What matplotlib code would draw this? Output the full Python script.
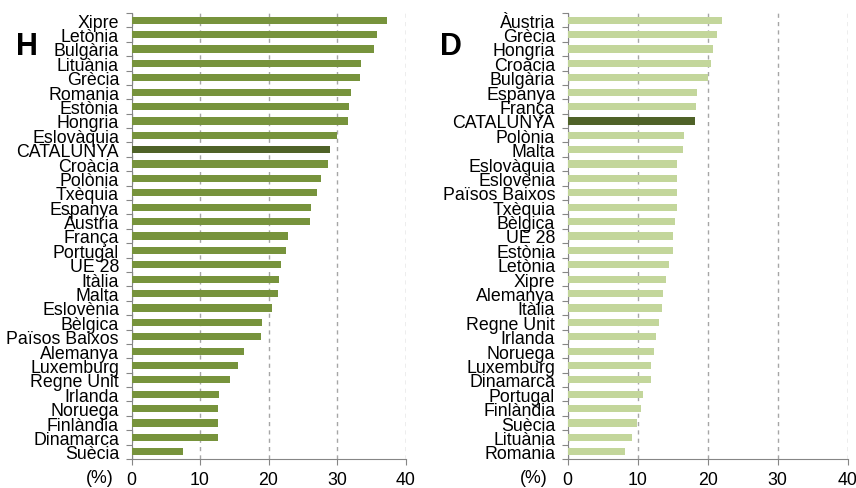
import numpy as np
import matplotlib
matplotlib.use('Agg')
import matplotlib.pyplot as plt

plt.rcParams['font.family'] = ['Liberation Sans', 'DejaVu Sans']

# Panel H
h_labels = ['Xipre', 'Letònia', 'Bulgària', 'Lituània', 'Grècia', 'Romania', 'Estònia',
            'Hongria', 'Eslovàquia', 'CATALUNYA', 'Croàcia', 'Polònia', 'Txèquia',
            'Espanya', 'Àustria', 'França', 'Portugal', 'UE 28', 'Itàlia', 'Malta',
            'Eslovènia', 'Bèlgica', 'Països Baixos', 'Alemanya', 'Luxemburg',
            'Regne Unit', 'Irlanda', 'Noruega', 'Finlàndia', 'Dinamarca', 'Suècia']
h_values = [37.3, 35.9, 35.4, 33.5, 33.3, 32.1, 31.8, 31.6, 30.0, 29.0, 28.7, 27.7,
            27.1, 26.2, 26.0, 22.9, 22.6, 21.8, 21.5, 21.4, 20.5, 19.1, 18.9, 16.4,
            15.6, 14.4, 12.8, 12.7, 12.7, 12.6, 7.5]

# Panel D
d_labels = ['Àustria', 'Grècia', 'Hongria', 'Croàcia', 'Bulgària', 'Espanya', 'França',
            'CATALUNYA', 'Polònia', 'Malta', 'Eslovàquia', 'Eslovènia', 'Països Baixos',
            'Txèquia', 'Bèlgica', 'UE 28', 'Estònia', 'Letònia', 'Xipre', 'Alemanya',
            'Itàlia', 'Regne Unit', 'Irlanda', 'Noruega', 'Luxemburg', 'Dinamarca',
            'Portugal', 'Finlàndia', 'Suècia', 'Lituània', 'Romania']
d_values = [22.0, 21.3, 20.7, 20.5, 20.0, 18.5, 18.3, 18.2, 16.6, 16.5, 15.6, 15.6,
            15.6, 15.6, 15.3, 15.1, 15.0, 14.5, 14.0, 13.6, 13.4, 13.0, 12.6, 12.3,
            11.9, 11.9, 10.7, 10.5, 9.9, 9.2, 8.2]

highlight = '#4F6228'
spine_col = '#868686'

fig = plt.figure(figsize=(8.56, 4.89), dpi=100)
ax_h = fig.add_axes([131.5 / 856, 29 / 489, 274 / 856, 446 / 489])
ax_d = fig.add_axes([567.7 / 856, 29 / 489, 280 / 856, 446 / 489])


def draw_panel(ax, labels, values, color, letter, letter_x, pct_x):
    n = len(labels)
    pos = np.arange(n)
    cols = [highlight if lab == 'CATALUNYA' else color for lab in labels]
    ax.barh(pos, values, height=0.5, color=cols, zorder=3)
    ax.set_xlim(0, 40)
    ax.set_ylim(n - 0.5, -0.5)

    # category boundaries as tick marks, labels at centers
    ax.set_yticks(np.arange(n + 1) - 0.5)
    ax.set_yticklabels([])
    ax.set_yticks(pos, minor=True)
    ax.set_yticklabels(labels, minor=True, fontsize=12.8)
    ax.tick_params(axis='y', which='major', length=4, color=spine_col, direction='out')
    ax.tick_params(axis='y', which='minor', length=0, pad=9)

    ax.set_xticks([0, 10, 20, 30, 40])
    ax.tick_params(axis='x', length=4, color=spine_col, labelsize=12.8, pad=4.5)
    ax.grid(axis='x', linestyle=(0, (3, 3)), color='#A6A6A6', linewidth=1, zorder=0)

    for s in ['top', 'right']:
        ax.spines[s].set_visible(False)
    for s in ['left', 'bottom']:
        ax.spines[s].set_color(spine_col)

    ax.text(pct_x, -0.042, '(%)', transform=ax.transAxes, ha='center', va='center',
            fontsize=12.8)
    ax.text(letter_x, 0.907, letter, transform=ax.transAxes, fontsize=22,
            fontweight='bold', va='baseline', ha='center')


draw_panel(ax_h, h_labels, h_values, '#77933C', 'H', -0.383, -0.117)
draw_panel(ax_d, d_labels, d_values, '#C3D69B', 'D', -0.417, -0.12)

fig.savefig('out.png', dpi=100)
